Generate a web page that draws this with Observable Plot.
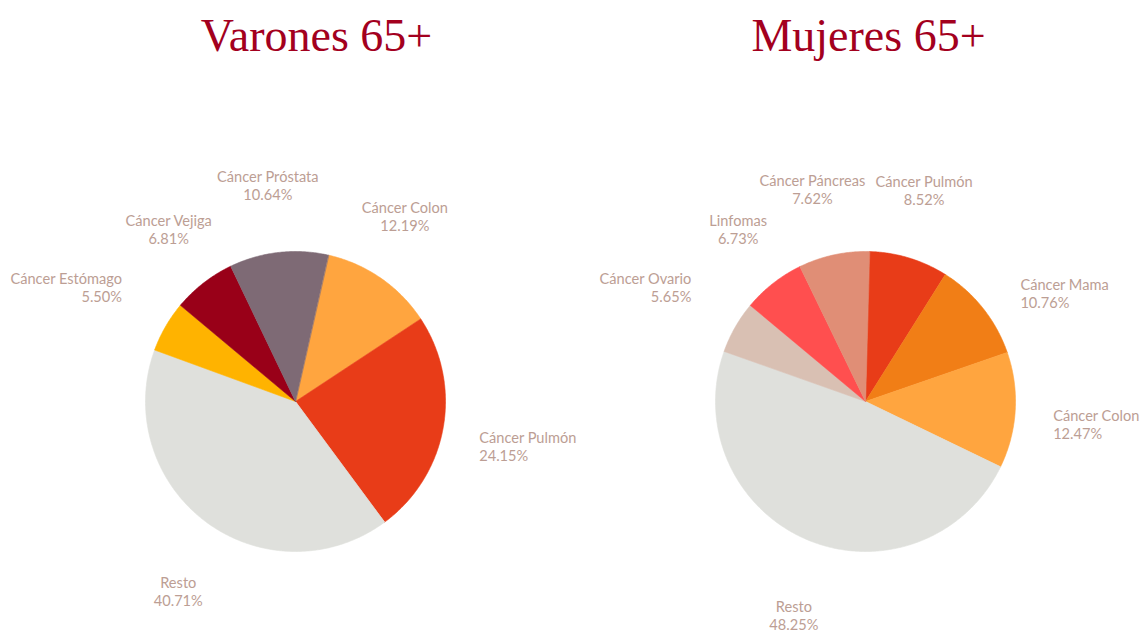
<!DOCTYPE html>
<html><head><meta charset="utf-8">
<script src="https://cdn.jsdelivr.net/npm/d3@7"></script>
<script src="https://cdn.jsdelivr.net/npm/@observablehq/plot@0.6"></script>
<style>body{margin:0;background:#fff}</style>
</head><body><div id="chart"></div>
<script>
// ---- data ----
const titles = ["Varones 65+", "Mujeres 65+"];
const menCategories = ["Cáncer Colon", "Cáncer Pulmón", "Resto", "Cáncer Estómago", "Cáncer Vejiga", "Cáncer Próstata"];
const menValues = [12.19, 24.15, 40.71, 5.50, 6.81, 10.64];
const womenCategories = ["Cáncer Pulmón", "Cáncer Mama", "Cáncer Colon", "Resto", "Cáncer Ovario", "Linfomas", "Cáncer Páncreas"];
const womenValues = [8.52, 10.76, 12.47, 48.25, 5.65, 6.73, 7.62];
const colorDomain = ["Cáncer Colon", "Cáncer Pulmón", "Resto", "Cáncer Estómago", "Cáncer Vejiga", "Cáncer Próstata", "Cáncer Mama", "Cáncer Ovario", "Linfomas", "Cáncer Páncreas"];
const colorRange = ["#FFA53F", "#E83C18", "#DFE0DC", "#FFB300", "#990018", "#7E6A75", "#F17E16", "#D9C0B3", "#FF4F4F", "#E08E76"];

// ---- layout ----
const W = 1143, H = 634, PX = 150;          // pixels per unit (pie radius = 1)
const cx0 = 295, cy0 = 401;                 // pixel center of first pie
const pies = [
  {id: 0, cats: menCategories, vals: menValues, cx: 0, start: 12.7, titleDx: 0.14},
  {id: 1, cats: womenCategories, vals: womenValues, cx: 570 / PX, start: 1.5, titleDx: 0.02}
];
const labelFont = "Lato", labelSize = 14.6, lineH = 18;
// label attachment distance (px from pie center) and angular shift (deg) by side
const dist = {right: 189, left: 208, top: 200, bottom: 208};
const turn = {right: 3.5, left: 3.5, top: -1.5, bottom: -2.5};
const gap = 10;
const ctx = document.createElement("canvas").getContext("2d");
ctx.font = `${labelSize}px ${labelFont}`;

const pts = [], labels = [];
for (const p of pies) {
  const total = d3.sum(p.vals);
  let a = p.start;
  const mine = [];
  p.cats.forEach((name, i) => {
    const span = p.vals[i] / total * 360;
    const a0 = a, a1 = a + span;
    const key = p.id + "-" + i;
    pts.push({key, name, x: p.cx, y: 0});
    const n = Math.ceil(span / 0.5);
    for (let k = 0; k <= n; k++) {
      const t = (a0 + (a1 - a0) * k / n) * Math.PI / 180;
      pts.push({key, name, x: p.cx + Math.sin(t), y: Math.cos(t)});
    }
    const mid = (a0 + a1) / 2 * Math.PI / 180;
    const s0 = Math.sin(mid), c0 = Math.cos(mid);
    const side = s0 > 0.7 ? "right" : s0 < -0.7 ? "left" : c0 > 0 ? "top" : "bottom";
    const m = mid + turn[side] * Math.PI / 180;
    const pct = p.vals[i].toFixed(2) + "%";
    const w = Math.max(ctx.measureText(name).width, ctx.measureText(pct).width) / PX;
    const D = dist[side] / PX;
    let x = p.cx + D * Math.sin(m), y = D * Math.cos(m), anchor = "middle";
    if (side === "right") anchor = "start";
    else if (side === "left") anchor = "end";
    else if (side === "top") y += lineH / PX;
    else y -= lineH / PX;
    mine.push({text: name + "\n" + pct, x, y, anchor, side, w});
    a = a1;
  });
  // push apart overlapping top labels horizontally
  const tops = mine.filter(d => d.side === "top").sort((u, v) => u.x - v.x);
  for (let k = 1; k < tops.length; k++) {
    const L = tops[k - 1], R = tops[k];
    if (Math.abs(L.y - R.y) < 2 * lineH / PX) {
      const over = (L.x + L.w / 2 + gap / PX) - (R.x - R.w / 2);
      if (over > 0) { L.x -= over / 2; R.x += over / 2; }
    }
  }
  labels.push(...mine);
}
const titleData = pies.map(p => ({text: titles[p.id], x: p.cx + p.titleDx, y: (cy0 - 50) / PX}));

const labelMark = anchor => Plot.text(labels.filter(d => d.anchor === anchor), {
  x: "x", y: "y", text: "text", textAnchor: anchor, lineAnchor: "middle",
  fontFamily: labelFont, fontSize: labelSize, lineHeight: lineH / labelSize, fill: "#BC9E94"
});

const chart = Plot.plot({
  width: W, height: H, margin: 0,
  x: {domain: [-cx0 / PX, (W - cx0) / PX], axis: null},
  y: {domain: [-(H - cy0) / PX, cy0 / PX], axis: null},
  color: {domain: colorDomain, range: colorRange},
  marks: [
    Plot.line(pts, {x: "x", y: "y", z: "key", fill: "name", stroke: "name", strokeWidth: 0.6, curve: "linear-closed"}),
    labelMark("start"), labelMark("middle"), labelMark("end"),
    Plot.text(titleData, {x: "x", y: "y", text: "text", textAnchor: "middle", lineAnchor: "bottom",
      fontFamily: "Liberation Serif", fontSize: 46, fill: "#A3001E"})
  ]
});
document.getElementById("chart").appendChild(chart);
</script>
</body></html>
